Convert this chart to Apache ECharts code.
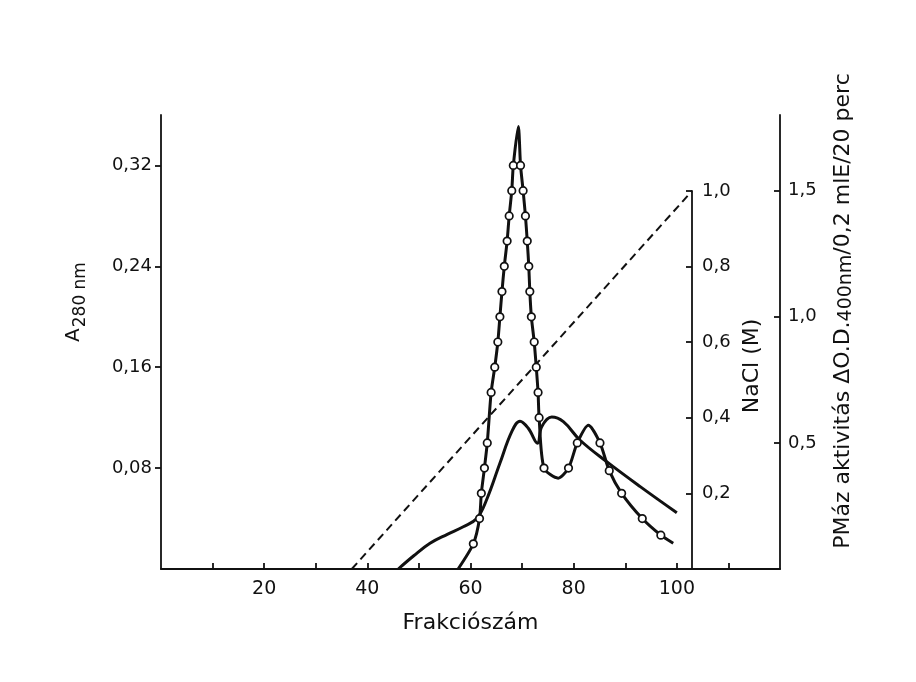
<!DOCTYPE html>
<html><head><meta charset="utf-8">
<script src="https://cdn.jsdelivr.net/npm/echarts@6/dist/echarts.min.js"></script>
<style>html,body{margin:0;background:#fff}#c{width:916px;height:682px}</style>
</head><body><div id="c"></div>
<script>
// Fraction numbers (x) and values
const activityX = [57.6, 60.55, 61.75, 62.1, 62.7, 63.25, 64.0, 64.7, 65.3, 65.7, 66.1, 66.55, 67.1, 67.5, 68.0, 68.3, 69.27, 69.7, 70.2, 70.65, 71.0, 71.3, 71.5, 71.8, 72.35, 72.75, 73.1, 73.3, 74.25, 77.0, 79.0, 80.7, 82.85, 85.1, 86.9, 89.3, 93.3, 96.9, 99.3];
const activityY = [0, 0.10, 0.20, 0.30, 0.40, 0.50, 0.70, 0.80, 0.90, 1.00, 1.10, 1.20, 1.30, 1.40, 1.50, 1.60, 1.754, 1.60, 1.50, 1.40, 1.30, 1.20, 1.10, 1.00, 0.90, 0.80, 0.70, 0.60, 0.40, 0.36, 0.40, 0.50, 0.57, 0.50, 0.39, 0.30, 0.20, 0.134, 0.102];
const activityMeasured = [0, 1,1,1,1,1,1,1,1,1,1,1,1,1,1,1, 0, 1,1,1,1,1,1,1,1,1,1,1,1, 0, 1,1, 0, 1,1,1,1,1, 0];

const a280X = [46.0, 49.0, 52.15, 55.5, 58.6, 61.2, 63.1, 65.7, 68.0, 69.6, 71.2, 73.0, 73.8, 75.75, 78.0, 81.2, 86.4, 92.9, 100.0];
const a280Y = [0, 0.0105, 0.0204, 0.0275, 0.0335, 0.040, 0.0547, 0.0838, 0.1089, 0.1172, 0.1116, 0.0997, 0.1128, 0.1205, 0.1168, 0.1023, 0.0851, 0.0653, 0.0446];

const naclX = [37, 103];
const naclY = [0, 1.0];

// tick labels
const xLabelValues = [20, 40, 60, 80, 100];
const xTickValues = [10, 20, 30, 40, 50, 60, 70, 80, 90, 100, 110];
const a280Ticks = [0.08, 0.16, 0.24, 0.32];
const pmazTicks = [0.5, 1.0, 1.5];
const naclTicks = [0.2, 0.4, 0.6, 0.8, 1.0];

const FONT = 'DejaVu Sans';
const INK = '#111';
const comma = d => v => v.toFixed(d).replace('.', ',');

const chart = echarts.init(document.getElementById('c'), null, {renderer: 'canvas'});
const axisLine = {show: true, onZero: false, lineStyle: {color: INK, width: 1.8}};
const tickLine = {color: INK, width: 1.8};
const labelStyle = {color: INK, fontFamily: FONT, fontSize: 18};

chart.setOption({
  animation: false,
  backgroundColor: '#fff',
  grid: [
    {left: 161, right: 136, top: 115, bottom: 113},
    {left: 161, right: 224, top: 191, bottom: 113}
  ],
  xAxis: [
    {type: 'value', gridIndex: 0, min: 0, max: 120, interval: 10,
     axisLine: axisLine,
     axisTick: {inside: true, length: 6, lineStyle: tickLine, customValues: xTickValues},
     axisLabel: Object.assign({}, labelStyle, {fontSize: 19, margin: 11, customValues: xLabelValues}),
     splitLine: {show: false},
     name: 'Frakciószám', nameLocation: 'middle', nameGap: 43,
     nameTextStyle: {color: INK, fontFamily: FONT, fontSize: 22}},
    {type: 'value', gridIndex: 1, min: 0, max: 103, show: false}
  ],
  yAxis: [
    {type: 'value', gridIndex: 0, position: 'left', min: 0, max: 0.36,
     axisLine: axisLine,
     axisTick: {show: true, length: 6, lineStyle: tickLine, customValues: a280Ticks},
     axisLabel: Object.assign({}, labelStyle, {margin: 9, customValues: a280Ticks, formatter: comma(2)}),
     splitLine: {show: false},
     name: '{a|A}{s|280 nm}', nameLocation: 'middle', nameRotate: 90, nameGap: 70,
     nameTextStyle: {padding: [0, 0, 0, 80], rich: {
       a: {fontFamily: FONT, fontSize: 20, color: INK, padding: [0, 1, 7, 0]},
       s: {fontFamily: FONT, fontSize: 17, color: INK, padding: [7, 0, 0, 0]}}}},
    {type: 'value', gridIndex: 0, position: 'right', min: 0, max: 1.8,
     axisLine: axisLine,
     axisTick: {show: true, inside: true, length: 6, lineStyle: tickLine, customValues: pmazTicks},
     axisLabel: Object.assign({}, labelStyle, {margin: 8, customValues: pmazTicks, formatter: comma(1)}),
     splitLine: {show: false},
     name: 'PMáz aktivitás ΔO.D.{s|400nm}/0,2 mlE/20 perc', nameLocation: 'middle', nameRotate: 90, nameGap: 51,
     nameTextStyle: {color: INK, fontFamily: FONT, fontSize: 22, padding: [0, 0, 0, 62], rich: {
       s: {fontFamily: FONT, fontSize: 19, color: INK, padding: [6, 0, 0, 0]}}}},
    {type: 'value', gridIndex: 1, position: 'right', min: 0, max: 1.0,
     axisLine: axisLine,
     axisTick: {show: true, inside: true, length: 6, lineStyle: tickLine, customValues: naclTicks},
     axisLabel: Object.assign({}, labelStyle, {margin: 10, customValues: naclTicks, formatter: comma(1)}),
     splitLine: {show: false},
     name: 'NaCl (M)', nameLocation: 'middle', nameRotate: 90, nameGap: 46,
     nameTextStyle: {color: INK, fontFamily: FONT, fontSize: 22, padding: [0, 0, 0, 28]}}
  ],
  series: [
    {type: 'line', name: 'NaCl', xAxisIndex: 1, yAxisIndex: 2,
     data: naclX.map((x, i) => [x, naclY[i]]),
     showSymbol: false, symbol: 'none',
     lineStyle: {color: INK, width: 2, type: [8, 5]}, z: 2},
    {type: 'line', name: 'A280', xAxisIndex: 0, yAxisIndex: 0,
     data: a280X.map((x, i) => [x, a280Y[i]]),
     smooth: 0.4, symbol: 'none',
     lineStyle: {color: INK, width: 3}, z: 3},
    {type: 'line', name: 'PMáz', xAxisIndex: 0, yAxisIndex: 1,
     data: activityX.map((x, i) => activityMeasured[i]
        ? {value: [x, activityY[i]]}
        : {value: [x, activityY[i]], symbol: 'none'}),
     smooth: 0.25, symbol: 'circle', symbolSize: 7.5, showSymbol: true,
     itemStyle: {color: '#fff', borderColor: INK, borderWidth: 1.7},
     lineStyle: {color: INK, width: 3}, z: 4}
  ]
});
</script></body></html>
